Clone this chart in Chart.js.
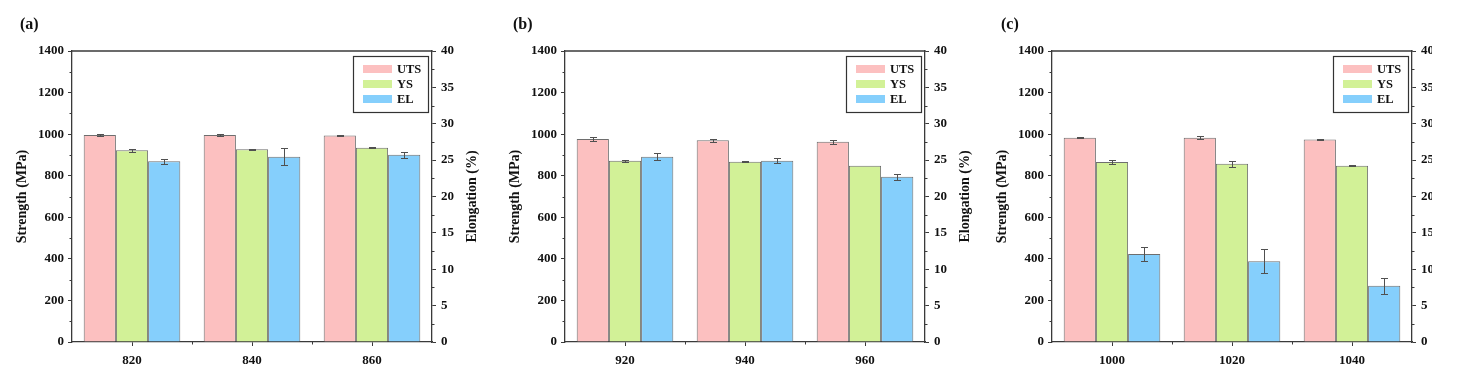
<!DOCTYPE html>
<html><head><meta charset="utf-8">
<script src="https://cdn.jsdelivr.net/npm/chart.js@4"></script>
<style>
body{margin:0;background:#fff;width:1476px;height:382px;overflow:hidden;position:relative;font-family:'Liberation Serif','Times New Roman',serif}
.wrap{position:absolute;top:0;height:382px;overflow:hidden}
.lbl{position:absolute;font-weight:bold;font-size:16px;line-height:16px;top:16px;color:#111}
canvas{display:block}
</style></head><body>
<div class="wrap" style="left:0;width:487px"><canvas id="ca" width="487" height="382"></canvas></div>
<div class="wrap" style="left:493px;width:487px"><canvas id="cb" width="487" height="382"></canvas></div>
<div class="wrap" style="left:980px;width:452px"><canvas id="cc" width="487" height="382"></canvas></div>
<div class="lbl" style="left:20px">(a)</div>
<div class="lbl" style="left:513px">(b)</div>
<div class="lbl" style="left:1001px">(c)</div>
<script>
// ---- data ----
const seriesNames = ['UTS', 'YS', 'EL'];
const strengthMax = 1400, strengthStep = 200;
const elongMax = 40, elongStep = 5;

const catsA = ['820', '840', '860'];
const utsA = [996, 996, 993];
const utsErrA = [3, 3, 2];
const ysA = [922, 927, 934];
const ysErrA = [8, 2, 2];
const elA = [24.85, 25.47, 25.75];
const elErrA = [0.34, 1.15, 0.4];

const catsB = ['920', '940', '960'];
const utsB = [977, 971, 963];
const utsErrB = [8, 7, 10];
const ysB = [872, 867, 848];
const ysErrB = [6, 2, 0];
const elB = [25.45, 24.9, 22.7];
const elErrB = [0.5, 0.34, 0.46];

const catsC = ['1000', '1020', '1040'];
const utsC = [983, 983, 974];
const utsErrC = [3, 6, 2];
const ysC = [866, 858, 848];
const ysErrC = [11, 14, 3];
const elC = [12.1, 11.1, 7.74];
const elErrC = [1.0, 1.63, 1.12];

// ---- style ----
const FONT = "'Liberation Serif','Times New Roman',serif";
const AX = '#3a3a3a';
const fills = ['#fcc0c0', '#d2f197', '#85cffc'];

const extras = {
  id: 'extras',
  afterDatasetsDraw(chart) {
    const ctx = chart.ctx;
    ctx.save();
    ctx.strokeStyle = '#505050';
    ctx.lineWidth = 1;
    chart.data.datasets.forEach((ds, i) => {
      const meta = chart.getDatasetMeta(i);
      const sc = chart.scales[ds.yAxisID || 'y'];
      meta.data.forEach((el, j) => {
        const v = ds.data[j], e = ds.errors[j];
        if (!e) return;
        const x = Math.round(el.x) + 0.5;
        const y1 = Math.round(sc.getPixelForValue(v + e)) + 0.5;
        const y2 = Math.round(sc.getPixelForValue(v - e)) + 0.5;
        ctx.beginPath();
        ctx.moveTo(x, y1); ctx.lineTo(x, y2);
        ctx.moveTo(x - 3.5, y1); ctx.lineTo(x + 3.5, y1);
        ctx.moveTo(x - 3.5, y2); ctx.lineTo(x + 3.5, y2);
        ctx.stroke();
      });
    });
    ctx.restore();
  },
  afterDraw(chart) {
    const { ctx, chartArea: ca, scales } = chart;
    ctx.save();
    ctx.strokeStyle = AX;
    ctx.lineWidth = 1.3;
    ctx.beginPath();
    ctx.moveTo(ca.left - 0.6, ca.top); ctx.lineTo(ca.right + 0.6, ca.top);
    ctx.stroke();
    // minor ticks
    ctx.lineWidth = 1;
    ctx.beginPath();
    for (let v = strengthStep / 2; v < strengthMax; v += strengthStep) {
      const y = Math.round(scales.y.getPixelForValue(v)) + 0.5;
      ctx.moveTo(ca.left, y); ctx.lineTo(ca.left - 2.5, y);
    }
    for (let v = elongStep / 2; v < elongMax; v += elongStep) {
      const y = Math.round(scales.y1.getPixelForValue(v)) + 0.5;
      ctx.moveTo(ca.right, y); ctx.lineTo(ca.right + 2.5, y);
    }
    const n = chart.data.labels.length;
    for (let k = 1; k < n; k++) {
      const x = Math.round((scales.x.getPixelForValue(k - 1) + scales.x.getPixelForValue(k)) / 2) + 0.5;
      ctx.moveTo(x, ca.bottom); ctx.lineTo(x, ca.bottom + 2.5);
    }
    ctx.stroke();
    // legend
    const bx = ca.right - 79, by = ca.top + 5, bw = 75, bh = 56;
    ctx.fillStyle = '#fff';
    ctx.fillRect(bx, by, bw, bh);
    ctx.strokeStyle = '#333';
    ctx.lineWidth = 1.2;
    ctx.strokeRect(bx + 0.5, by + 0.5, bw, bh);
    ctx.font = 'bold 12.5px ' + FONT;
    ctx.textBaseline = 'middle';
    ctx.textAlign = 'left';
    chart.data.datasets.forEach((ds, i) => {
      const cy = by + 13 + i * 15;
      ctx.fillStyle = ds.backgroundColor;
      ctx.fillRect(bx + 10, cy - 4, 29, 8);
      ctx.fillStyle = '#111';
      ctx.fillText(ds.label, bx + 44, cy + 1);
    });
    // right axis title (reads bottom to top)
    ctx.save();
    ctx.translate(ca.right + 40, (ca.top + ca.bottom) / 2);
    ctx.rotate(-Math.PI / 2);
    ctx.textAlign = 'center';
    ctx.textBaseline = 'middle';
    ctx.font = 'bold 14px ' + FONT;
    ctx.fillStyle = '#111';
    ctx.fillText('Elongation (%)', 0, 0);
    ctx.restore();
    ctx.restore();
  }
};

function makeChart(id, cats, uts, utsErr, ys, ysErr, el, elErr) {
  const tickFont = { family: FONT, size: 13, weight: 'bold' };
  const plain = v => String(v);
  return new Chart(document.getElementById(id), {
    type: 'bar',
    data: {
      labels: cats,
      datasets: [
        { label: seriesNames[0], data: uts, errors: utsErr, yAxisID: 'y', backgroundColor: fills[0] },
        { label: seriesNames[1], data: ys, errors: ysErr, yAxisID: 'y', backgroundColor: fills[1] },
        { label: seriesNames[2], data: el, errors: elErr, yAxisID: 'y1', backgroundColor: fills[2] }
      ]
    },
    options: {
      responsive: false,
      animation: false,
      devicePixelRatio: 1,
      layout: { padding: { top: 51, left: 0, right: 0, bottom: 0 } },
      datasets: { bar: { categoryPercentage: 0.805, barPercentage: 1.0, borderColor: '#6e6e6e', borderWidth: 1 } },
      plugins: { legend: { display: false }, tooltip: { enabled: false } },
      scales: {
        x: {
          offset: true,
          grid: { offset: false, drawOnChartArea: false, drawTicks: true, tickLength: 4, tickColor: AX, tickWidth: 1 },
          border: { display: true, color: AX, width: 1.3 },
          ticks: { font: tickFont, color: '#111', padding: 7, maxRotation: 0 },
          afterFit(s) { s.height = 40; }
        },
        y: {
          position: 'left',
          min: 0, max: strengthMax,
          ticks: { stepSize: strengthStep, font: tickFont, color: '#111', padding: 4, callback: plain },
          grid: { drawOnChartArea: false, drawTicks: true, tickLength: 4, tickColor: AX, tickWidth: 1 },
          border: { display: true, color: AX, width: 1.3 },
          title: { display: true, text: 'Strength (MPa)', font: { family: FONT, size: 14, weight: 'bold' }, color: '#111', padding: { top: 14, bottom: 0 } },
          afterFit(s) { s.width = 72; }
        },
        y1: {
          position: 'right',
          min: 0, max: elongMax,
          ticks: { stepSize: elongStep, font: tickFont, color: '#111', padding: 5, callback: plain },
          grid: { drawOnChartArea: false, drawTicks: true, tickLength: 4, tickColor: AX, tickWidth: 1 },
          border: { display: true, color: AX, width: 1.3 },
          afterFit(s) { s.width = 55; }
        }
      }
    },
    plugins: [extras]
  });
}

makeChart('ca', catsA, utsA, utsErrA, ysA, ysErrA, elA, elErrA);
makeChart('cb', catsB, utsB, utsErrB, ysB, ysErrB, elB, elErrB);
makeChart('cc', catsC, utsC, utsErrC, ysC, ysErrC, elC, elErrC);
</script>
</body></html>
